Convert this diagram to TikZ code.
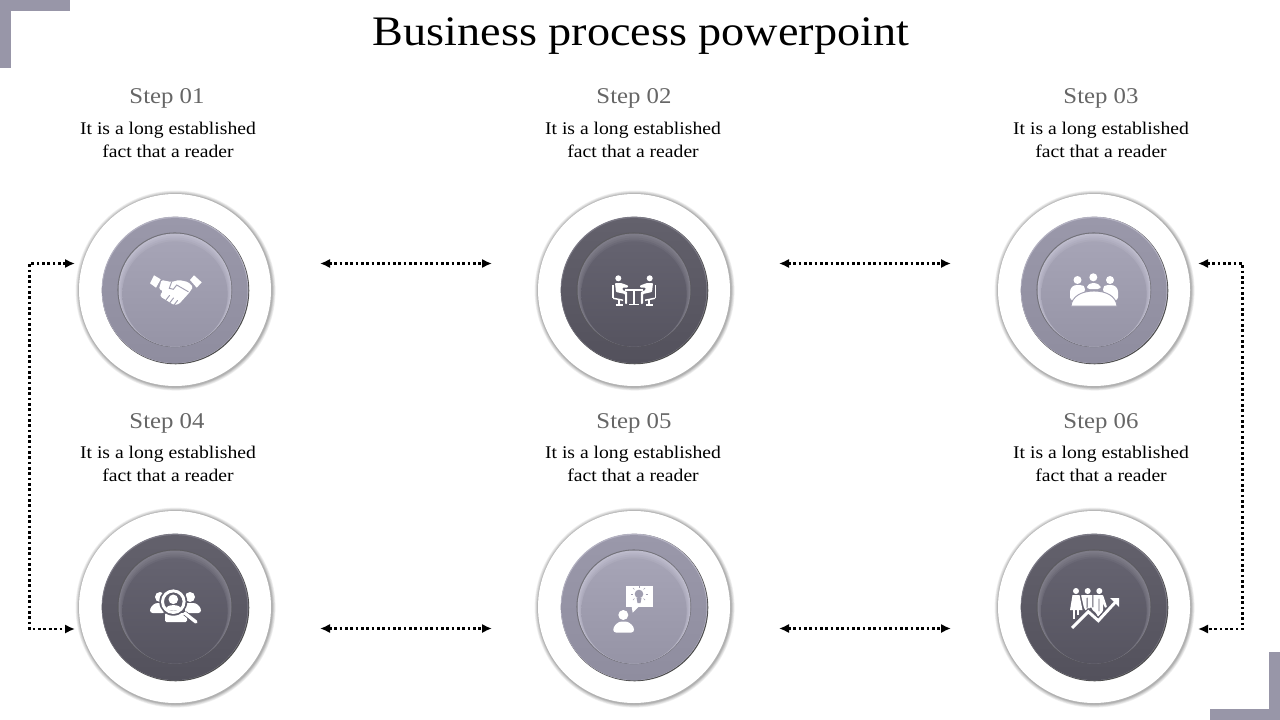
\documentclass[tikz,border=0pt]{standalone}
\usepackage{fontspec}
\setmainfont[FakeStretch = 1.1]{Liberation Serif}
\usetikzlibrary{arrows.meta}
\definecolor{mcorner}{HTML}{9896A8}
\definecolor{mstep}{HTML}{666666}
\definecolor{lightback}{HTML}{A09EB0}
\definecolor{darkback}{HTML}{5F5D6A}
\definecolor{lightedge}{HTML}{B4B2C2}
\definecolor{lightrimtop}{HTML}{9A98AA}
\definecolor{lightrimlow}{HTML}{8F8D9F}
\definecolor{lighthi}{HTML}{BDBBCC}
\definecolor{lightbase}{HTML}{A6A4B6}
\definecolor{lightlow}{HTML}{9694A6}
\definecolor{darkedge}{HTML}{7C7A86}
\definecolor{darkrimtop}{HTML}{63616C}
\definecolor{darkrimlow}{HTML}{53515C}
\definecolor{darkhi}{HTML}{7E7C88}
\definecolor{darkbase}{HTML}{656370}
\definecolor{darklow}{HTML}{565460}
\tikzset{
  ring/.style = {fill = white, circle, inner sep = 0, minimum size = 144pt},
  disc/.style = {circle, inner sep = 0},
  glow/.style = {disc, fill = black, fill opacity = 0.06},
  heading/.style = {text = mstep, anchor = base, font = \fontsize{16.9pt}{20pt}\selectfont},
  blurb/.style = {align = center, font = \fontsize{13.4pt}{17.25pt}\selectfont},
  hop/.style = {line width = 2pt, dash pattern = on 2pt off 2pt, {Latex[length = 7.5pt, width = 7pt]}-{Latex[length = 7.5pt, width = 7pt]}},
  cut/.style = {draw = iconback, line width = 0.7pt, line cap = round},
  pics/shake/.style = {code = {
    \fill [white] (-21, -14.7) -- (-14.3, -10.7) -- (-19, -2.3) -- (-25, -6.7) -- cycle;
    \fill [white] (19, -14.7) -- (26.7, -7.7) -- (21.7, -2.3) -- (15, -10) -- cycle;
    \fill [white, rounded corners = 1pt] (-13.5, -10) -- (-3.5, -8) -- (4, -10) -- (13, -8) -- (18, -3) -- (14, 3) -- (4, 14) -- (-1, 15) -- (-14, 7) -- (-15, 5) -- (-12, 1) -- (-16, -1) -- cycle;
    \draw [cut] (-3.3, -8.3) -- (-5.7, -1.7) -- (-1.7, -0.7) -- (1.7, -5) -- (13.3, 1.7);
    \draw [cut] (-9, 10) -- (-5.5, 5.5);
    \draw [cut] (-5, 12.5) -- (-1.5, 8);
    \draw [cut] (-1, 15) -- (2.5, 10.5);
  }},
  pics/meeting/.style = {code = {
    \foreach \side in {1, -1} {
      \begin{scope}[xscale = \side]
        \fill [white] (-15.7, -11.7) circle (3);
        \fill [white, rounded corners = 0.6pt] (-19, -7) -- (-13, -7) -- (-6, -4.5) -- (-6, -2.5) -- (-11.5, -2.5) -- (-11.5, 0) -- (-6.8, 2) -- (-6.8, 14) -- (-9, 14) -- (-9, 4) -- (-18, 2) -- cycle;
        \fill [white] (-22, -5.5) rectangle (-20.5, 8);
        \fill [white] (-21, 7.5) -- (-11, 9.5) -- (-11, 11) -- (-21, 9) -- cycle;
        \draw [white, line width = 1pt] (-15, 9) -- (-15, 14.5) (-18.5, 15) -- (-11.5, 15);
      \end{scope}
    }
    \fill [white] (-9, -1) rectangle (9, 0.7);
    \fill [white] (-1.5, 0.7) rectangle (0.7, 13.5);
    \fill [white] (-5, 13.5) rectangle (4.5, 15);
  }},
  pics/team/.style = {code = {
    \fill [white] (-16.5, -10) circle (4);
    \fill [white] (-0.7, -12.7) circle (4);
    \fill [white] (16, -10) circle (4);
    \fill [white, rounded corners = 2pt] (-7, -1) -- (-7, -4.5) -- (-3, -7) -- (2, -7) -- (6.5, -4.5) -- (6.5, -1) -- cycle;
    \fill [white, rounded corners = 2pt] (-24, 10) -- (-24, -1) -- (-20, -5) -- (-12, -5) -- (-9, -3) -- (-9, 2) -- (-20, 10) -- cycle;
    \fill [white, rounded corners = 2pt] (24, 10) -- (24, -1) -- (20, -5) -- (12, -5) -- (9, -3) -- (9, 2) -- (20, 10) -- cycle;
    \draw [cut, fill = white] (-23, 16) .. controls (-22, 6) and (-12, 1) .. (0, 1) .. controls (12, 1) and (22, 6) .. (23, 16) -- cycle;
  }},
  pics/search/.style = {code = {
    \fill [white] (-15, -10) circle (5);
    \fill [white] (15, -10) circle (5);
    \fill [white, rounded corners = 2pt] (-25, 6) -- (-25, 1) -- (-20, -4) -- (-10, -4) -- (-10, 6) -- cycle;
    \fill [white, rounded corners = 2pt] (26, 6) -- (26, 1) -- (21, -4) -- (10, -4) -- (10, 6) -- cycle;
    \fill [white, rounded corners = 1pt] (-10, 15) -- (-10, 6) -- (12, 6) -- (12, 15) -- cycle;
    \fill [iconback] (-1.7, -5.3) circle (14);
    \draw [iconback, line width = 3.6pt] (10, 6.3) -- (21.7, 15.7);
    \draw [white, line width = 2.2pt] (-1.7, -5.3) circle (10.8);
    \draw [white, line width = 2.5pt, line cap = round] (10, 6.3) -- (21, 15);
    \fill [white] (-1.7, -7.7) circle (4.8);
    \fill [white] (-9, 1.5) .. controls (-8, -3) and (5, -3) .. (6, 1.5) .. controls (2, 4.5) and (-5, 4.5) .. (-9, 1.5) -- cycle;
  }},
  pics/idea/.style = {code = {
    \fill [white] (-10.7, 8) circle (5);
    \fill [white, rounded corners = 2pt] (-20.7, 25.5) -- (-20.7, 20) -- (-15, 14.5) -- (-6, 14.5) -- (0, 20) -- (0, 25.5) -- cycle;
    \fill [white] (-8.3, -21.3) rectangle (18.7, 0.3);
    \fill [white] (-2.3, 0) -- (-1.3, 5.7) -- (4.3, 0) -- cycle;
    \fill [iconback] (5, -13) circle (4.3);
    \fill [iconback] (2.5, -9) -- (7.5, -9) -- (6.5, -4) -- (3.5, -4) -- cycle;
    \foreach \spoke in {0, 45, 135, 180, 225, 270, 315} {
      \draw [iconback, line width = 0.5pt] (5, -13) ++(\spoke:6.5) -- ++(\spoke:2);
    }
  }},
  pics/growth/.style = {code = {
    \fill [white] (-18, -16) circle (3);
    \fill [white] (-6.3, -16) circle (3);
    \fill [white] (5.3, -16) circle (3);
    \fill [white] (-21.5, -12) -- (-14.5, -12) -- (-11.5, 3) -- (-24, 3) -- cycle;
    \fill [white] (-21, 3) rectangle (-19.5, 12);
    \fill [white] (-17, 3) rectangle (-15.5, 8);
    \fill [white, rounded corners = 0.6pt] (-13, -12) -- (9, -12) -- (13, 0) -- (11, 1) -- (9, -4) -- (9, 4) -- (4, 10) -- (2, 6) -- (-1.5, 3) -- (-3, 0) -- (-8, 4) -- (-10, 1) -- cycle;
    \draw [cut] (-6.8, -9) -- (-7, 1) (-1.2, -12) -- (-1.2, 0) (5, -8) -- (5, 4);
    \draw [iconback, line width = 4pt] (-21.7, 21) -- (-5.7, 4.7) -- (4.3, 13.7) -- (24, -7.7);
    \draw [white, line width = 2.2pt] (-22, 21) -- (-5.7, 4.7) -- (4.3, 13.7) -- (24, -7.7);
    \fill [white] (16, -9) -- (25, -9) -- (25, 0) -- cycle;
  }}
}
\begin{document}
\begin{tikzpicture}[x = 0.75pt, y = -0.75pt]
  \useasboundingbox (0, 0) rectangle (1280, 720);
  \fill [mcorner] (0, 0) rectangle (70, 11);
  \fill [mcorner] (0, 0) rectangle (11, 68);
  \fill [mcorner] (1210, 709) rectangle (1280, 720);
  \fill [mcorner] (1269, 652) rectangle (1280, 720);

  \node [anchor = base, font = \fontsize{31.5pt}{36pt}\selectfont] (title) at (641, 46) {Business process powerpoint};

  \foreach \id/\x/\y/\tx/\hx/\bx/\tone/\icon in {
    01/175/290/96/167/168/light/shake,
    02/634/290/96/634/633/dark/meeting,
    03/1094/290/96/1101/1101/light/team,
    04/175/607/420/167/168/dark/search,
    05/634/607/420/634/633/light/idea,
    06/1094/607/420/1101/1101/dark/growth} {
    \colorlet{iconback}{\tone back}
    \foreach \g in {100, 99.3, 98.6, 98, 97.5, 97} {
      \node [glow, minimum size = \g*1.5pt] at (\x + 0.6, \y + 0.6) {};
    }
    \node [ring] (ring\id) at (\x, \y) {};
    \node [disc, minimum size = 110.5pt, fill = black!70] at (\x + 0.6, \y + 0.6) {};
    \node [disc, minimum size = 110pt, fill = \tone edge] at (\x, \y) {};
    \node [disc, minimum size = 108.7pt, top color = \tone rimtop, bottom color = \tone rimlow] (rim\id) at (\x, \y + 0.6) {};
    \node [disc, minimum size = 86pt, fill = black!65, fill opacity = 0.6] at (\x - 0.2, \y - 0.2) {};
    \foreach \k/\m in {0/100, 1/75, 2/50, 3/25} {
      \node [disc, minimum size = (56.5 - \k)*1.5pt, fill = \tone hi!\m!\tone base] at (\x, \y + \k) {};
    }
    \node [disc, minimum size = 79pt, top color = \tone base, bottom color = \tone low] (face\id) at (\x, \y + 4) {};
    \path (\x, \y) pic {\icon};
    \node [heading] (head\id) at (\hx, \tx + 8) {Step \id};
    \node [blurb] (text\id) at (\bx, \tx + 43.5) {It is a long established\\fact that a reader};
  }

  \foreach \row/\y in {top/263.5, low/628.5} {
    \coordinate (a\row) at (320, \y);
    \coordinate (b\row) at (492, \y);
    \coordinate (c\row) at (779, \y);
    \coordinate (d\row) at (951, \y);
    \draw [hop] (a\row) -- (b\row);
    \draw [hop] (c\row) -- (d\row);
  }
  \coordinate (e1) at (75, 263.5);
  \coordinate (e2) at (29.5, 263.5);
  \coordinate (e3) at (29.5, 629);
  \coordinate (e4) at (75, 629);
  \coordinate (f1) at (1198, 263.5);
  \coordinate (f2) at (1242.5, 263.5);
  \coordinate (f3) at (1242.5, 629);
  \coordinate (f4) at (1198, 629);
  \draw [hop] (e1) -- (e2) -- (e3) -- (e4);
  \draw [hop] (f1) -- (f2) -- (f3) -- (f4);
\end{tikzpicture}
\end{document}
